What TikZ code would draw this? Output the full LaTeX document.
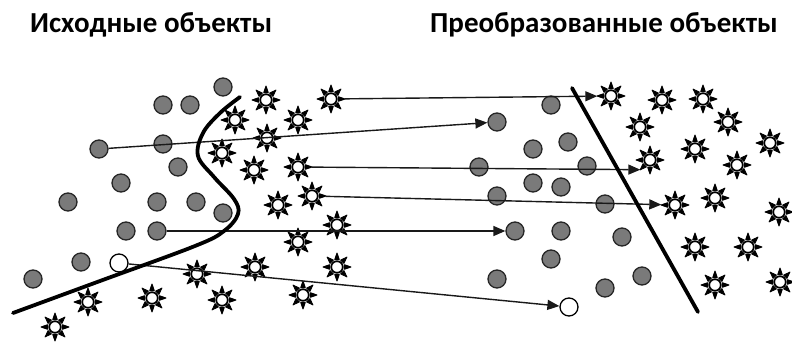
\documentclass[tikz,border=0pt]{standalone}
\usepackage{fontspec}
\setmainfont{Carlito}
\usetikzlibrary{arrows.meta}
\tikzset{
  obj/.style={circle, draw=black!85, fill=black!52, line width=1.3pt, minimum size=18pt, inner sep=0pt},
  wobj/.style={circle, draw=black, fill=white, line width=1.3pt, minimum size=18pt, inner sep=0pt},
  sunnode/.style={circle, minimum size=27pt, inner sep=0pt},
  sunshape/.pic={
    \draw[line width=1.8pt] (0,0) circle (5.8);
    \foreach \a in {0,45,...,315}{
      \filldraw[line width=0.9pt, line join=round] (\a-17:7.8) -- (\a:14) -- (\a+17:7.8) -- cycle;
    }
  },
  arr/.style={-{Triangle[length=12pt,width=10pt]}, line width=1.4pt, draw=black!90},
  sep/.style={line width=3.8pt, line cap=round, line join=round},
  ttl/.style={font=\bfseries\fontsize{29}{32}\selectfont, inner sep=0pt, anchor=base west}
}
\newcommand{\sunat}[2]{\node[sunnode] (#1) at (#2) {}; \pic at (#1) {sunshape};}
\newcommand{\ball}[2]{\node[obj] (#1) at (#2) {};}
\begin{document}
\begin{tikzpicture}[x=1pt,y=-1pt]
\useasboundingbox (0,0) rectangle (792,342);
% titles
\node[ttl] (t1) at (30,33) {Исходные объекты};
\node[ttl] (t2) at (430,33) {Преобразованные объекты};
% left gray objects
\ball{l1}{163,105}
\ball{l2}{190,105}
\ball{l3}{223,87}
\ball{l4}{99,149}
\ball{l5}{163,144}
\ball{l6}{178,167}
\ball{l7}{121,183}
\ball{l8}{68,202}
\ball{l9}{157,202}
\ball{l10}{196,202}
\ball{l11}{223,213}
\ball{l12}{126,231}
\ball{l13}{157,231}
\ball{l14}{81,262}
\ball{l15}{33,279}
\node[wobj] (lw) at (119,263) {};
% right gray objects
\ball{r1}{551,105}
\ball{r2}{497,122}
\ball{r3}{533,149}
\ball{r4}{568,142}
\ball{r5}{479,167}
\ball{r6}{587,166}
\ball{r7}{533,183}
\ball{r8}{561,187}
\ball{r9}{497,196}
\ball{r10}{605,204}
\ball{r11}{515,231}
\ball{r12}{561,231}
\ball{r13}{622,237}
\ball{r14}{551,259}
\ball{r15}{497,279}
\ball{r16}{605,288}
\ball{r17}{642,276}
\node[wobj] (rw) at (569,307) {};
% left stars
\sunat{a1}{266,100}
\sunat{a2}{331,99}
\sunat{a3}{235,120}
\sunat{a4}{298,120}
\sunat{a5}{267,138}
\sunat{a6}{222,153}
\sunat{a7}{298,167}
\sunat{a8}{254,170}
\sunat{a9}{312,196}
\sunat{a10}{278,205}
\sunat{a11}{337,225}
\sunat{a12}{298,242}
\sunat{a13}{255,267}
\sunat{a14}{337,267}
\sunat{a15}{197,274}
\sunat{a16}{222,300}
\sunat{a17}{303,295}
\sunat{a18}{88,302}
\sunat{a19}{152,298}
\sunat{a20}{55,327}
% right stars
\sunat{b1}{611,96}
\sunat{b2}{662,100}
\sunat{b3}{703,99}
\sunat{b4}{640,127}
\sunat{b5}{728,122}
\sunat{b6}{695,149}
\sunat{b7}{770,143}
\sunat{b8}{650,160}
\sunat{b9}{737,165}
\sunat{b10}{675,205}
\sunat{b11}{715,198}
\sunat{b12}{779,212}
\sunat{b13}{695,247}
\sunat{b14}{748,247}
\sunat{b15}{715,285}
\sunat{b16}{780,282}
% arrows
\draw[arr] (a2) -- (b1);
\draw[arr] (l4) -- (r2);
\draw[arr] (a7) -- (b8.south west);
\draw[arr] (a9) -- (b10);
\draw[arr] (l13) -- (r11);
\draw[arr] (lw) -- (rw);
% separating lines
\draw[sep] plot[smooth, tension=0.6] coordinates {(13,313) (100,281) (195,246) (224,231) (238,214) (234,199) (214,177) (198,156) (203,133) (220,113) (240,97)};
\draw[sep] (572,88) -- (698,312);
\end{tikzpicture}
\end{document}
